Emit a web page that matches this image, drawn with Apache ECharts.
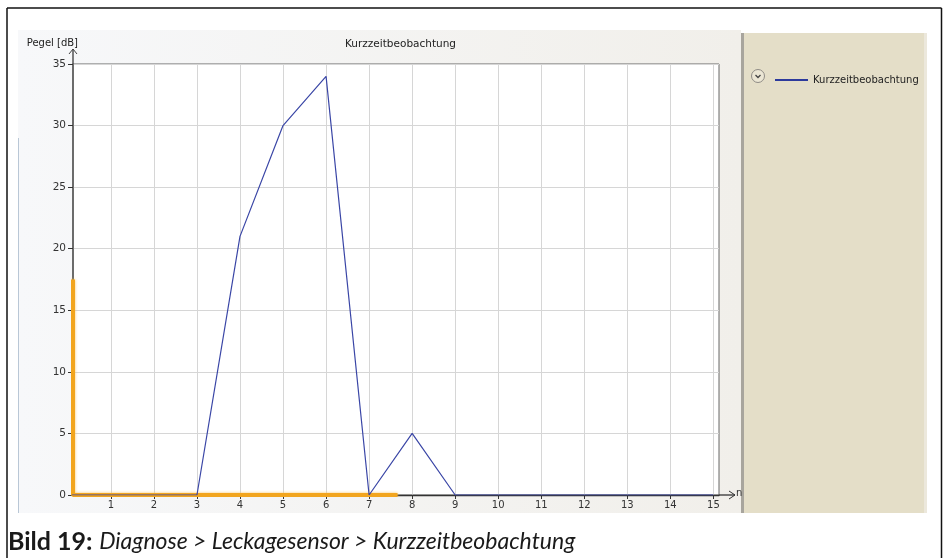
<!DOCTYPE html>
<html>
<head>
<meta charset="utf-8">
<script src="https://cdn.jsdelivr.net/npm/echarts@6/dist/echarts.min.js"></script>
<style>html,body{margin:0;padding:0;background:#fff;}#c{width:943px;height:558px;}</style>
</head>
<body>
<div id="c"></div>
<script>
// ---- data ----
const seriesName = 'Kurzzeitbeobachtung';
const xValues = [0, 1, 2, 3, 4, 5, 6, 7, 8, 9, 10, 11, 12, 13, 14, 15];
const yValues = [0, 0, 0, 0, 21, 30, 34, 0, 5, 0, 0, 0, 0, 0, 0, 0];
const xTickValues = [1, 2, 3, 4, 5, 6, 7, 8, 9, 10, 11, 12, 13, 14, 15];
const highlightX = [0.12, 0.12, 7.66];
const highlightY = [17.5, 0, 0];
const yAxisName = 'Pegel [dB]';
const xAxisName = 'n';
const captionBold = 'Bild 19:';
const captionItalic = 'Diagnose > Leckagesensor > Kurzzeitbeobachtung';

const lineData = xValues.map((x, i) => [x, yValues[i]]);
const hlData = highlightX.map((x, i) => [x, highlightY[i]]);

const font = '"DejaVu Sans", sans-serif';
const chart = echarts.init(document.getElementById('c'), null, {renderer: 'canvas'});
chart.setOption({
  animation: false,
  backgroundColor: '#ffffff',
  title: {
    text: seriesName, left: 340, top: 34,
    textStyle: {fontFamily: font, fontSize: 10.5, fontWeight: 'normal', color: '#222'}
  },
  legend: {
    left: 770, top: 70, icon: 'rect', itemWidth: 33, itemHeight: 2, itemGap: 6,
    textStyle: {fontFamily: font, fontSize: 10, color: '#222'},
    data: [seriesName]
  },
  grid: {
    left: 73, top: 64, right: 224, bottom: 63,
    show: true, backgroundColor: '#ffffff', borderColor: '#666', borderWidth: 1
  },
  xAxis: {
    type: 'value', min: 0.12, max: 15.13,
    axisLine: {lineStyle: {color: '#333', width: 1.3}},
    axisTick: {length: 4, customValues: xTickValues, lineStyle: {color: '#333'}},
    axisLabel: {customValues: xTickValues, margin: 5, fontFamily: font, fontSize: 10, color: '#333'},
    splitLine: {show: true, lineStyle: {color: '#d6d6d6', width: 1}}
  },
  yAxis: {
    type: 'value', min: 0, max: 35, interval: 5,
    name: yAxisName, nameLocation: 'end', nameGap: 21,
    nameTextStyle: {fontFamily: font, fontSize: 10, color: '#222', align: 'right', verticalAlign: 'middle', padding: [0, -5, 0, 0]},
    axisLine: {lineStyle: {color: '#555', width: 1.5}},
    axisTick: {length: 5, lineStyle: {color: '#333'}},
    axisLabel: {margin: 7, fontFamily: font, fontSize: 10.5, color: '#333'},
    splitLine: {show: true, lineStyle: {color: '#d6d6d6', width: 1}}
  },
  series: [
    {
      name: 'highlight', type: 'line', data: hlData, symbol: 'none', silent: true,
      lineStyle: {color: '#f2a51e', width: 4, shadowColor: 'rgba(248,190,80,0.9)', shadowBlur: 3},
      z: 3
    },
    {
      name: seriesName, type: 'line', data: lineData, symbol: 'none',
      lineStyle: {color: '#3a46a6', width: 1.2}, itemStyle: {color: '#2c3a9c'}, z: 5
    }
  ],
  graphic: [
    // outer frame
    {type: 'line', shape: {x1: 7, y1: 8, x2: 941.5, y2: 8}, style: {stroke: '#111', lineWidth: 1.5}, z: -5},
    {type: 'line', shape: {x1: 7, y1: 8, x2: 7, y2: 558}, style: {stroke: '#111', lineWidth: 1.5}, z: -5},
    {type: 'line', shape: {x1: 941.5, y1: 8, x2: 941.5, y2: 558}, style: {stroke: '#111', lineWidth: 1.5}, z: -5},
    // panel background
    {type: 'rect', shape: {x: 18, y: 30, width: 723, height: 483}, z: -10,
     style: {fill: new echarts.graphic.LinearGradient(0, 0, 1, 0, [{offset: 0, color: '#f7f8fa'}, {offset: 1, color: '#f1efea'}])}},
    {type: 'line', shape: {x1: 18.5, y1: 138, x2: 18.5, y2: 513}, style: {stroke: '#b9c7d6', lineWidth: 1}, z: -9},
    // legend side panel
    {type: 'rect', shape: {x: 741, y: 33, width: 3, height: 480}, style: {fill: '#a8a59d'}, z: -9},
    {type: 'rect', shape: {x: 744, y: 33, width: 180, height: 480}, style: {fill: '#e4dec8'}, z: -9},
    {type: 'rect', shape: {x: 924, y: 33, width: 3, height: 480}, style: {fill: '#ece8dc'}, z: -9},
    // legend collapse icon
    {type: 'circle', shape: {cx: 758, cy: 76, r: 6.5}, style: {fill: '#ebe6d4', stroke: '#8f8c86', lineWidth: 1}, z: 10},
    {type: 'polyline', shape: {points: [[755.5, 75], [758, 77.5], [760.5, 75]]}, style: {stroke: '#444', lineWidth: 1.3, fill: null}, z: 11},
    // y axis arrow extension
    {type: 'line', shape: {x1: 73, y1: 64, x2: 73, y2: 49}, style: {stroke: '#555', lineWidth: 1.5}, z: 10},
    {type: 'polyline', shape: {points: [[69, 54], [73, 49], [77, 54]]}, style: {stroke: '#444', lineWidth: 1, fill: null}, z: 10},
    // x axis arrow extension
    {type: 'line', shape: {x1: 719, y1: 495, x2: 735, y2: 495}, style: {stroke: '#333', lineWidth: 1.3}, z: 10},
    {type: 'polyline', shape: {points: [[729, 491], [735, 495], [729, 499]]}, style: {stroke: '#333', lineWidth: 1, fill: null}, z: 10},
    {type: 'text', x: 736, y: 488, style: {text: xAxisName, font: '10px "DejaVu Sans", sans-serif', fill: '#333'}, z: 10},
    // caption
    {type: 'text', x: 8, y: 529, z: 10,
     style: {
       text: '{b|' + captionBold + '}  {i|' + captionItalic + '}',
       rich: {
         b: {fontFamily: 'Lato, sans-serif', fontSize: 25, fontWeight: 'bold', fill: '#1a1a1a'},
         i: {fontFamily: 'Lato, sans-serif', fontSize: 23, fontStyle: 'italic', fill: '#1a1a1a'}
       }
     }}
  ]
});
</script>
</body>
</html>
